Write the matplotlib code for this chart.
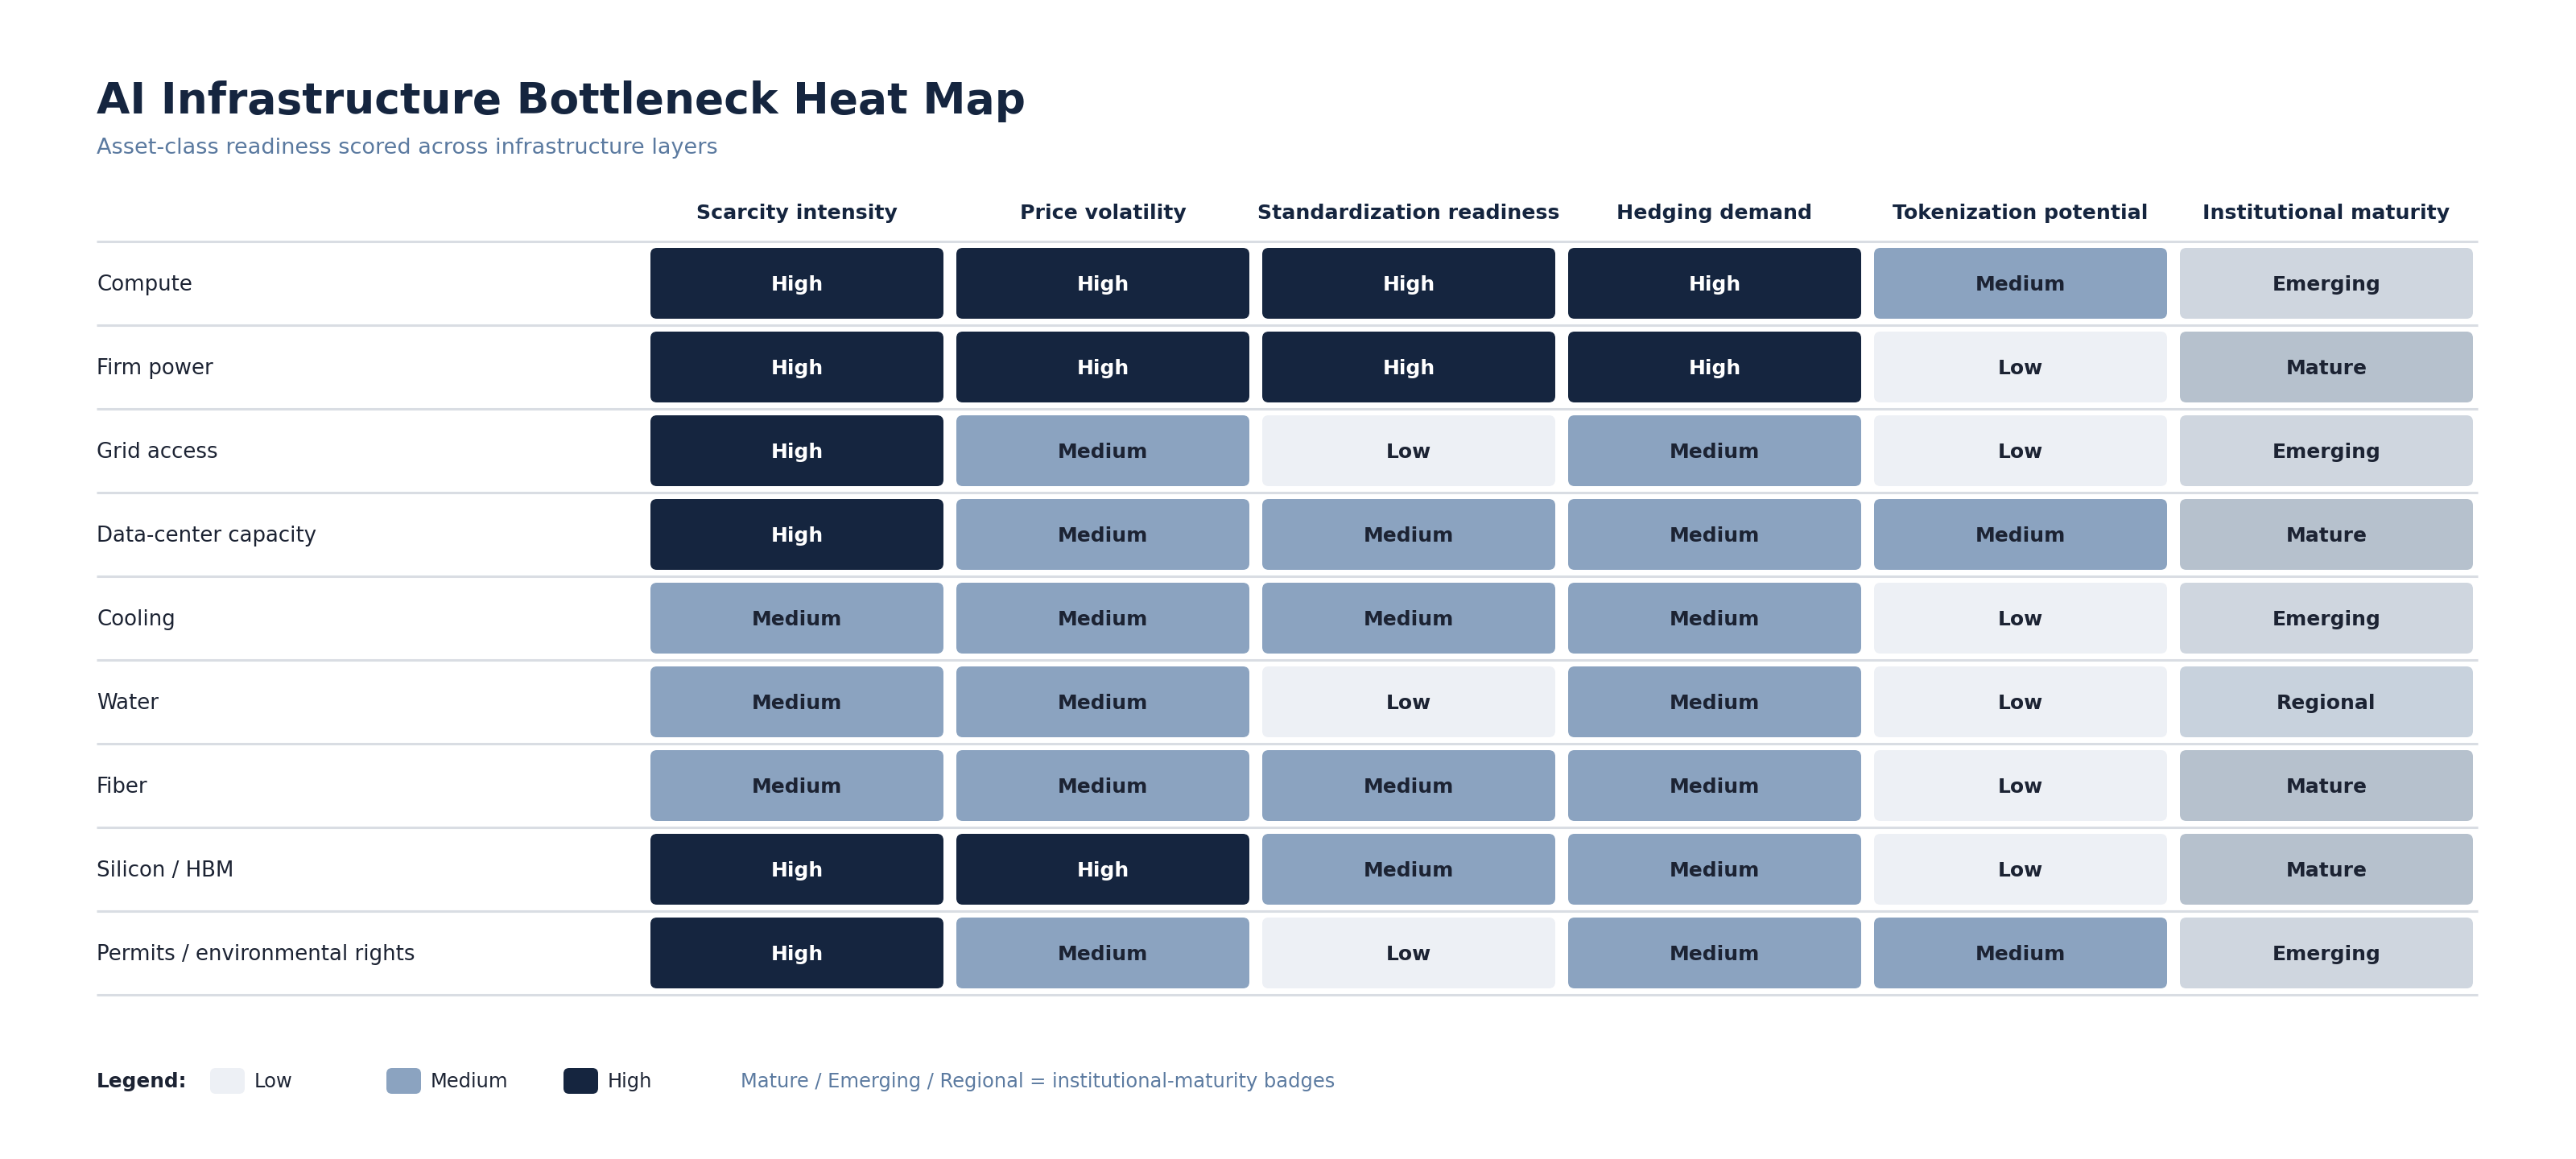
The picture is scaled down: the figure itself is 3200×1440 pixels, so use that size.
"""AI infrastructure bottleneck heat map"""

import matplotlib
matplotlib.use("Agg")
import matplotlib.pyplot as plt
from matplotlib.patches import FancyBboxPatch

plt.rcParams['font.family'] = ['DejaVu Sans']

# --- data ---
rows = [
	"Compute",
	"Firm power",
	"Grid access",
	"Data-center capacity",
	"Cooling",
	"Water",
	"Fiber",
	"Silicon / HBM",
	"Permits / environmental rights",
]
columns = [
	"Scarcity intensity",
	"Price volatility",
	"Standardization readiness",
	"Hedging demand",
	"Tokenization potential",
	"Institutional maturity",
]
scores = [
	["High", "High", "High", "High", "Medium", "Emerging"],
	["High", "High", "High", "High", "Low", "Mature"],
	["High", "Medium", "Low", "Medium", "Low", "Emerging"],
	["High", "Medium", "Medium", "Medium", "Medium", "Mature"],
	["Medium", "Medium", "Medium", "Medium", "Low", "Emerging"],
	["Medium", "Medium", "Low", "Medium", "Low", "Regional"],
	["Medium", "Medium", "Medium", "Medium", "Low", "Mature"],
	["High", "High", "Medium", "Medium", "Low", "Mature"],
	["High", "Medium", "Low", "Medium", "Medium", "Emerging"],
]
legend_levels = ["Low", "Medium", "High"]

# --- styles ---
fills = {
	"High": "#15253f",
	"Medium": "#8ba3c0",
	"Low": "#edf0f5",
	"Emerging": "#cfd6df",
	"Mature": "#b6c1cd",
	"Regional": "#c8d2dd",
}
DARK = "#15253f"
TEXT = "#1c2333"
MUTED = "#5b7aa0"
RULE = "#d9dde3"

W, H = 3200, 1440
left = 120
grid_x0, col_w = 800, 380
grid_y0, row_h = 300, 104
inset = 8
right = grid_x0 + col_w * len(columns) - 2

fig = plt.figure(figsize=(W / 100, H / 100), dpi=100)
ax = fig.add_axes([0, 0, 1, 1])
ax.set_xlim(0, W)
ax.set_ylim(H, 0)
ax.axis('off')

# title block
ax.text(left, 141, "AI Infrastructure Bottleneck Heat Map", fontsize=38.5,
	fontweight='bold', color=DARK, va='baseline', ha='left')
ax.text(left, 184, "Asset-class readiness scored across infrastructure layers",
	fontsize=19.5, color=MUTED, va='center', ha='left')

# column headers
for j, name in enumerate(columns):
	cx = grid_x0 + col_w * j + col_w / 2
	ax.text(cx, 265, name, fontsize=18.2, fontweight='bold', color=DARK,
		ha='center', va='center')

# row rules
for i in range(len(rows) + 1):
	y = grid_y0 + row_h * i
	ax.plot([left, right], [y, y], color=RULE, linewidth=2.2,
		solid_capstyle='butt', zorder=1)

# cells
for i, (label, row) in enumerate(zip(rows, scores)):
	y0 = grid_y0 + row_h * i
	ax.text(left, y0 + row_h / 2 + 2, label, fontsize=18.7, color=TEXT,
		ha='left', va='center')
	for j, val in enumerate(row):
		x0 = grid_x0 + col_w * j
		box = FancyBboxPatch(
			(x0 + inset, y0 + inset),
			col_w - 2 * inset,
			row_h - 2 * inset,
			boxstyle="round,pad=0,rounding_size=8",
			facecolor=fills[val],
			edgecolor='none',
			zorder=2,
		)
		ax.add_patch(box)
		tc = "white" if val == "High" else TEXT
		ax.text(x0 + col_w / 2, y0 + row_h / 2 + 2, val, fontsize=18,
			fontweight='bold', color=tc, ha='center', va='center', zorder=3)

# legend
ly = 1344
ax.text(left, ly, "Legend:", fontsize=17.8, fontweight='bold', color=TEXT,
	ha='left', va='center')
sw_x = [261, 480, 700]
for x, lvl in zip(sw_x, legend_levels):
	sw = FancyBboxPatch(
		(x, ly - 17), 43, 32,
		boxstyle="round,pad=0,rounding_size=7",
		facecolor=fills[lvl],
		edgecolor='none',
	)
	ax.add_patch(sw)
	ax.text(x + 55, ly, lvl, fontsize=17.4, color=TEXT, ha='left', va='center')
ax.text(920, ly, "Mature / Emerging / Regional = institutional-maturity badges",
	fontsize=17.4, color=MUTED, ha='left', va='center')

plt.savefig("out.png", dpi=100, facecolor='white')
plt.close()
